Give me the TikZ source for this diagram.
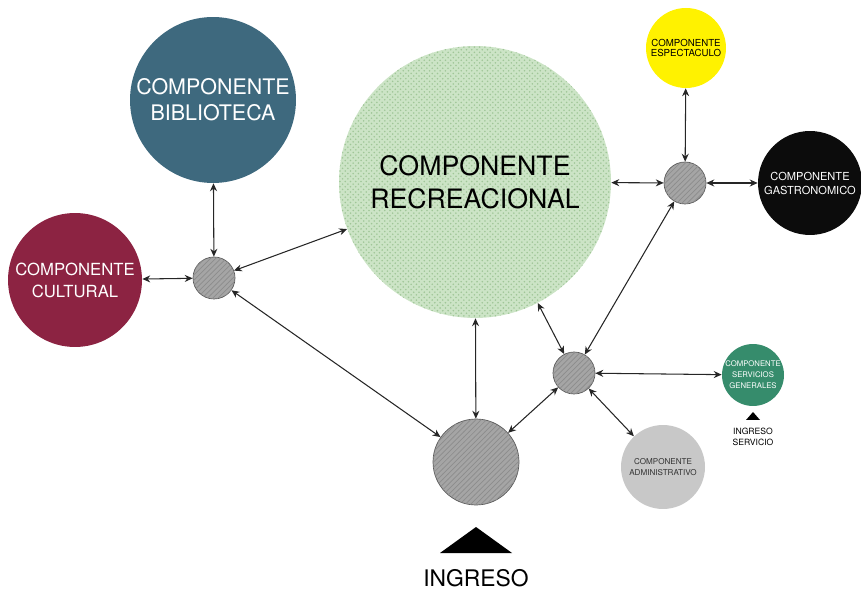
\documentclass[tikz,border=0pt]{standalone}
\usepackage{fontspec}
\setmainfont{TeX Gyre Heros}
\usetikzlibrary{arrows.meta, positioning, patterns}
\definecolor{bibblue}{RGB}{62,105,126}
\definecolor{culred}{RGB}{140,35,66}
\definecolor{recgreen}{RGB}{204,228,198}
\definecolor{recdots}{RGB}{160,198,152}
\definecolor{espyellow}{RGB}{255,242,0}
\definecolor{gasblack}{RGB}{12,12,12}
\definecolor{sergreen}{RGB}{54,140,108}
\definecolor{admgray}{RGB}{200,200,200}
\definecolor{hubgray}{RGB}{165,165,165}

\begin{document}
\begin{tikzpicture}[x=0.02cm, y=-0.02cm,
    comp/.style={circle, inner sep=0pt, align=center},
    hub/.style={circle, draw=black!65, fill=hubgray, postaction={pattern=north east lines, pattern color=black!45}, inner sep=0pt},
    arr/.style={{Stealth[length=4.5pt, width=4pt]}-{Stealth[length=4.5pt, width=4pt]}, semithick, black!85},
    lbl/.style={align=center, inner sep=0pt}
]
\useasboundingbox (0,0) rectangle (861,590);

% components
\node[comp, fill=recgreen, postaction={pattern=crosshatch dots, pattern color=recdots}, minimum size=5.44cm, font=\fontsize{15.2}{19}\selectfont] (rec) at (475,182) {COMPONENTE\\RECREACIONAL};
\node[comp, fill=bibblue, text=white, minimum size=3.32cm, font=\fontsize{12.2}{14.7}\selectfont] (bib) at (213,100) {COMPONENTE\\BIBLIOTECA};
\node[comp, fill=culred, text=white, minimum size=2.68cm, font=\fontsize{9.5}{12.5}\selectfont] (cul) at (75,280) {COMPONENTE\\CULTURAL};
\node[comp, fill=espyellow, minimum size=1.6cm, font=\fontsize{5.5}{6.2}\selectfont] (esp) at (686,48) {COMPONENTE\\ESPECTACULO};
\node[comp, fill=gasblack, text=white, minimum size=2.08cm, font=\fontsize{6.3}{8}\selectfont] (gas) at (810,183) {COMPONENTE\\GASTRONOMICO};
\node[comp, fill=sergreen, text=white, minimum size=1.24cm, font=\fontsize{4.4}{6.2}\selectfont] (ser) at (753,375) {COMPONENTE\\SERVICIOS\\GENERALES};
\node[comp, fill=admgray, text=black!80, minimum size=1.68cm, font=\fontsize{4.6}{6.2}\selectfont] (adm) at (663,467) {COMPONENTE\\ADMINISTRATIVO};

% hubs
\node[hub, minimum size=0.84cm] (hl) at (214,278) {};
\node[hub, minimum size=0.84cm] (hm) at (574,373) {};
\node[hub, minimum size=0.84cm] (htr) at (685,183) {};
\node[hub, minimum size=1.72cm] (hin) at (476,462) {};

% entrances
\fill (440,553) -- (476,527) -- (512,553) -- cycle;
\node[lbl, font=\fontsize{13}{15}\selectfont] (ing) at (476,578) {INGRESO};
\fill (746,420) -- (753,412) -- (760,420) -- cycle;
\node[lbl, font=\fontsize{4.9}{6.2}\selectfont] (ingser) at (753,437) {INGRESO\\SERVICIO};

% connections
\draw[arr] (cul) -- (hl);
\draw[arr] (bib) -- (hl);
\draw[arr] (hl) -- (rec);
\draw[arr] (hl) -- (hin);
\draw[arr] (rec) -- (hin);
\draw[arr] (hin) -- (hm);
\draw[arr] (hm) -- (rec);
\draw[arr] (hm) -- (htr);
\draw[arr] (hm) -- (ser);
\draw[arr] (hm) -- (adm);
\draw[arr] (rec) -- (htr);
\draw[arr] (htr) -- (esp);
\draw[arr] (htr) -- (gas);
\end{tikzpicture}
\end{document}
